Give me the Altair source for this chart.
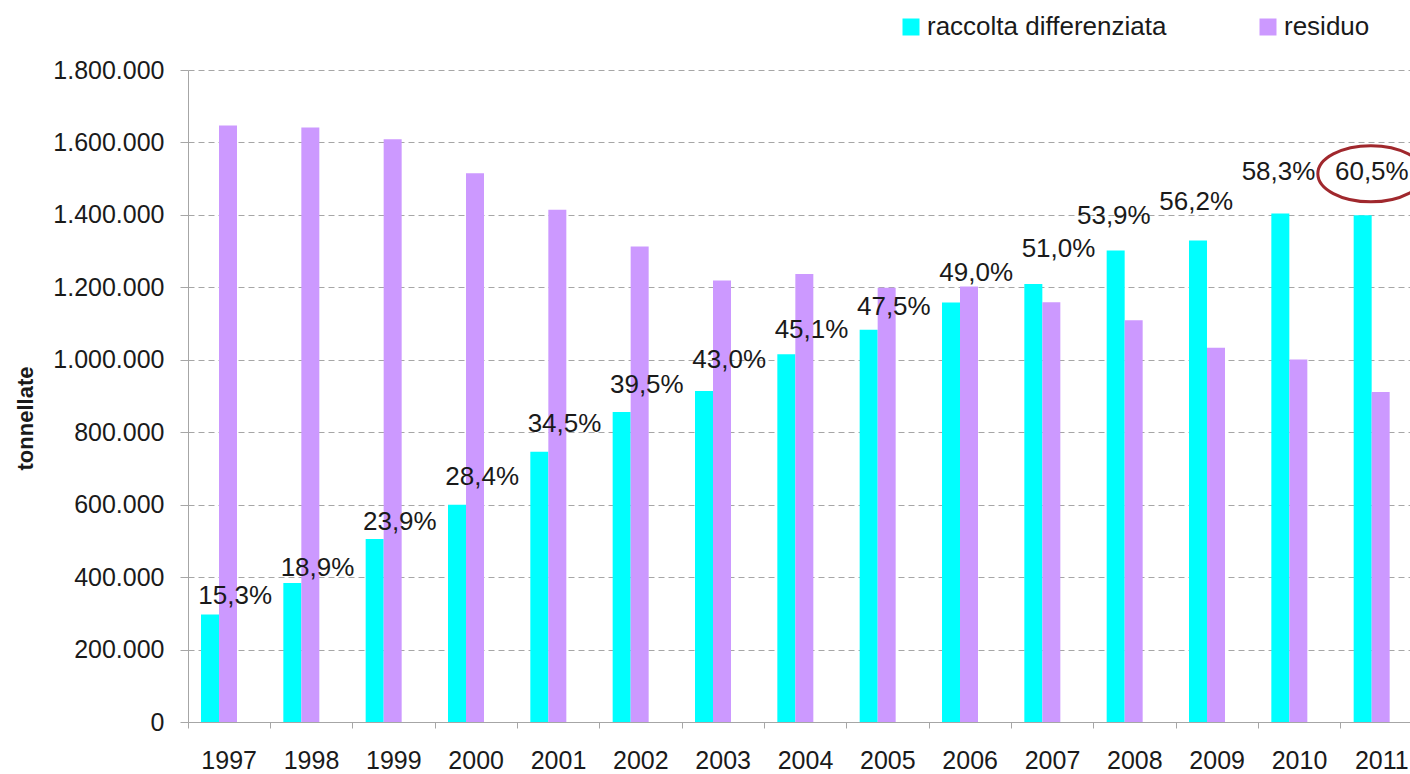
import altair as alt
import pandas as pd

years = ["1997", "1998", "1999", "2000", "2001", "2002", "2003", "2004",
         "2005", "2006", "2007", "2008", "2009", "2010", "2011"]
raccolta = [297000, 384000, 505000, 600000, 746000, 856000, 914000, 1015000,
            1083000, 1158000, 1209000, 1302000, 1329000, 1404000, 1399000]
residuo = [1647000, 1641000, 1609000, 1515000, 1414000, 1313000, 1219000, 1237000,
           1199000, 1202000, 1159000, 1109000, 1033000, 1001000, 911000]
pct_labels = ["15,3%", "18,9%", "23,9%", "28,4%", "34,5%", "39,5%", "43,0%", "45,1%",
              "47,5%", "49,0%", "51,0%", "53,9%", "56,2%", "58,3%", "60,5%"]
# height (in tonnellate) at which each percentage label sits
pct_label_height = [346600, 425800, 553500, 677700, 823000, 930700, 999700, 1082500,
                    1146800, 1239000, 1305000, 1397000, 1436500, 1519000, 1519000]
series_names = ["raccolta differenziata", "residuo"]
series_colors = ["#00FFFF", "#CC99FF"]
y_ticks = [0, 200000, 400000, 600000, 800000, 1000000, 1200000, 1400000, 1600000, 1800000]
early_years = years[:11]
late_years = ["2008", "2009", "2010"]
highlight_year = "2011"

rows = []
for i, y in enumerate(years):
    rows.append({"year": y, "serie": series_names[0], "value": raccolta[i]})
    rows.append({"year": y, "serie": series_names[1], "value": residuo[i]})
bars_df = pd.DataFrame(rows)
labels_df = pd.DataFrame({"year": years, "label": pct_labels, "h": pct_label_height})

FONT = "Liberation Sans"
TXT = "#1a1a1a"
GRAY = "#A6A6A6"

x_enc = alt.X(
    "year:N", sort=years,
    scale=alt.Scale(domain=years, range=[0, 1235], paddingInner=0, paddingOuter=0),
    axis=alt.Axis(title=None, bandPosition=0, tickSize=6, labelPadding=20,
                  labelFontSize=25, labelColor=TXT, labelAngle=0,
                  domainColor=GRAY, tickColor=GRAY, grid=False, labelOverlap=False),
)
y_scale = alt.Scale(domain=[0, 1800000], nice=False)

bars = alt.Chart(bars_df).mark_bar().encode(
    x=x_enc,
    xOffset=alt.XOffset("serie:N", sort=series_names,
                        scale=alt.Scale(domain=series_names, range=[13, 49],
                                        paddingInner=0, paddingOuter=0)),
    y=alt.Y("value:Q", scale=y_scale,
            axis=alt.Axis(values=y_ticks, format=",d", grid=True, gridDash=[6, 4],
                          gridColor=GRAY, domainColor=GRAY, tickColor=GRAY,
                          tickSize=8, labelPadding=16, labelFontSize=25,
                          labelColor=TXT, title="tonnellate", titleFontSize=22,
                          titleFontWeight="bold", titleColor=TXT, titleAngle=270,
                          titleX=-163, titleY=348, titleAlign="center",
                          titleBaseline="middle")),
    color=alt.Color("serie:N",
                    scale=alt.Scale(domain=series_names, range=series_colors),
                    legend=alt.Legend(orient="none", legendX=710, legendY=-56,
                                      direction="horizontal", title=None,
                                      symbolType="square", symbolSize=289,
                                      symbolStrokeWidth=0, labelFontSize=26,
                                      labelColor=TXT, labelOffset=3, labelLimit=500,
                                      columnPadding=88, padding=0)),
)


def pct_text(year_list, shift):
    return alt.Chart(labels_df).transform_filter(
        alt.FieldOneOfPredicate(field="year", oneOf=year_list)
    ).mark_text(
        fontSize=26, color=TXT, align="center", baseline="middle", xOffset=shift
    ).encode(
        x=alt.X("year:N", sort=years),
        y=alt.Y("h:Q", scale=y_scale),
        text="label:N",
    )


text_early = pct_text(early_years, 6)
text_late = pct_text(late_years, -21)
text_hl = pct_text([highlight_year], -10)

ellipse = alt.Chart(labels_df).transform_filter(
    alt.FieldEqualPredicate(field="year", equal=highlight_year)
).mark_point(
    shape="M -1 0 A 1 0.53 0 1 0 1 0 A 1 0.53 0 1 0 -1 0 Z",
    size=11236, filled=False, stroke="#A0282D", strokeWidth=3,
    opacity=1, xOffset=-11, yOffset=2,
).encode(
    x=alt.X("year:N", sort=years),
    y=alt.Y("h:Q", scale=y_scale),
)

chart = alt.layer(bars, text_early, text_late, text_hl, ellipse).properties(
    width=1222, height=652,
    autosize=alt.AutoSizeParams(type="none"),
    padding={"left": 188, "top": 70, "right": 0, "bottom": 52},
    background="white",
).configure(
    font=FONT,
    locale={"number": {"decimal": ",", "thousands": ".", "grouping": [3],
                       "currency": ["", "\u20ac"]}},
).configure_view(stroke=None)

chart.save("out.html", embed_options={"renderer": "svg", "actions": False})
